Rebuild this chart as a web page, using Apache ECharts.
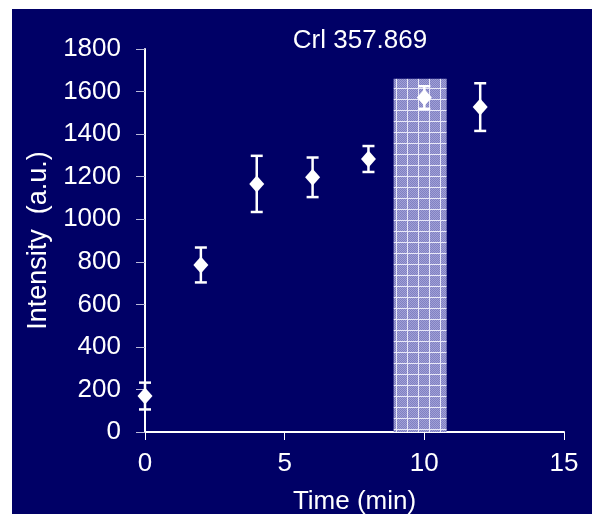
<!DOCTYPE html>
<html>
<head>
<meta charset="utf-8">
<script src="https://cdn.jsdelivr.net/npm/echarts@6/dist/echarts.min.js"></script>
<style>
html,body{margin:0;padding:0;background:#ffffff;}
#wrap{position:absolute;left:12px;top:9px;width:580px;height:505px;background:#000066;}
#chart{position:absolute;left:0;top:0;width:592px;height:514px;}
</style>
</head>
<body>
<div id="wrap"></div>
<div id="chart"></div>
<script>
const times = [0, 2, 4, 6, 8, 10, 12];
const intensity = [169, 785, 1166, 1197, 1283, 1572, 1527];
const errors = [63, 82, 132, 93, 61, 53, 112];
const shadeRange = [8.9, 10.8];
const shadeTop = 1660;
const xTicks = [0, 5, 10, 15];
const yTicks = [0, 200, 400, 600, 800, 1000, 1200, 1400, 1600, 1800];

function makePattern() {
  const c = document.createElement('canvas');
  c.width = 11; c.height = 11;
  const ctx = c.getContext('2d');
  ctx.fillStyle = '#8080c2';
  ctx.fillRect(0, 0, 11, 11);
  ctx.fillStyle = '#a0a0d6';
  for (let i = 0; i < 11; i++) for (let j = 0; j < 11; j++) if ((i + j) % 2 === 0) ctx.fillRect(i, j, 1, 1);
  ctx.fillStyle = '#e8e8f8';
  ctx.fillRect(0, 0, 11, 1);
  ctx.fillRect(0, 0, 1, 11);
  return c;
}

const chart = echarts.init(document.getElementById('chart'), null, {renderer: 'canvas'});
const pts = times.map((t, i) => [t, intensity[i], errors[i]]);
const font = 'Liberation Sans, Arial, sans-serif';

chart.setOption({
  backgroundColor: 'transparent',
  animation: false,
  title: {
    text: 'Crl 357.869', left: 355, top: 23, textAlign: 'center',
    textStyle: {color: '#ffffff', fontSize: 26, fontWeight: 'normal', fontFamily: font}
  },
  grid: {left: 145, right: 28, top: 49, bottom: 82, containLabel: false, outerBoundsMode: 'none'},
  xAxis: {
    type: 'value', min: 0, max: 15, interval: 5,
    name: 'Time (min)', nameLocation: 'middle', nameGap: 57,
    nameTextStyle: {color: '#ffffff', fontSize: 26, fontFamily: font},
    axisLine: {show: true, onZero: false, lineStyle: {color: '#ffffff', width: 2}},
    axisTick: {show: true, length: 8, lineStyle: {color: '#ffffff', width: 1}},
    axisLabel: {color: '#ffffff', fontSize: 26, fontFamily: font, margin: 19,
      formatter: v => xTicks.includes(v) ? String(v) : ''},
    splitLine: {show: false}
  },
  yAxis: {
    type: 'value', min: 0, max: 1800, interval: 200,
    name: 'Intensity  (a.u.)', nameLocation: 'middle', nameGap: 88,
    nameTextStyle: {color: '#ffffff', fontSize: 27, fontFamily: font},
    axisLine: {show: true, lineStyle: {color: '#ffffff', width: 2}},
    axisTick: {show: true, length: 9, lineStyle: {color: '#b8b8d8', width: 1}},
    axisLabel: {color: '#ffffff', fontSize: 26, fontFamily: font, margin: 24,
      formatter: v => yTicks.includes(v) ? String(v) : ''},
    splitLine: {show: false}
  },
  series: [
    {
      type: 'scatter', data: [], silent: true, z: 1,
      markArea: {
        silent: true,
        itemStyle: {color: {image: makePattern(), repeat: 'repeat'}, opacity: 1},
        data: [[{coord: [shadeRange[0], 0]}, {coord: [shadeRange[1], shadeTop]}]]
      }
    },
    {
      type: 'custom', z: 3,
      data: pts,
      renderItem: function (params, api) {
        const x = api.value(0), y = api.value(1), e = api.value(2);
        const top = api.coord([x, y + e]);
        const bot = api.coord([x, y - e]);
        const hw = 6;
        const st = {stroke: '#ffffff', lineWidth: 2.5};
        return {
          type: 'group', children: [
            {type: 'line', shape: {x1: top[0], y1: top[1], x2: bot[0], y2: bot[1]}, style: st},
            {type: 'line', shape: {x1: top[0] - hw, y1: top[1], x2: top[0] + hw, y2: top[1]}, style: st},
            {type: 'line', shape: {x1: bot[0] - hw, y1: bot[1], x2: bot[0] + hw, y2: bot[1]}, style: st}
          ]
        };
      }
    },
    {
      type: 'scatter', z: 4,
      data: pts.map(p => [p[0], p[1]]),
      symbol: 'diamond', symbolSize: [15, 17],
      itemStyle: {color: '#ffffff', opacity: 1}
    }
  ]
});
</script>
</body>
</html>
